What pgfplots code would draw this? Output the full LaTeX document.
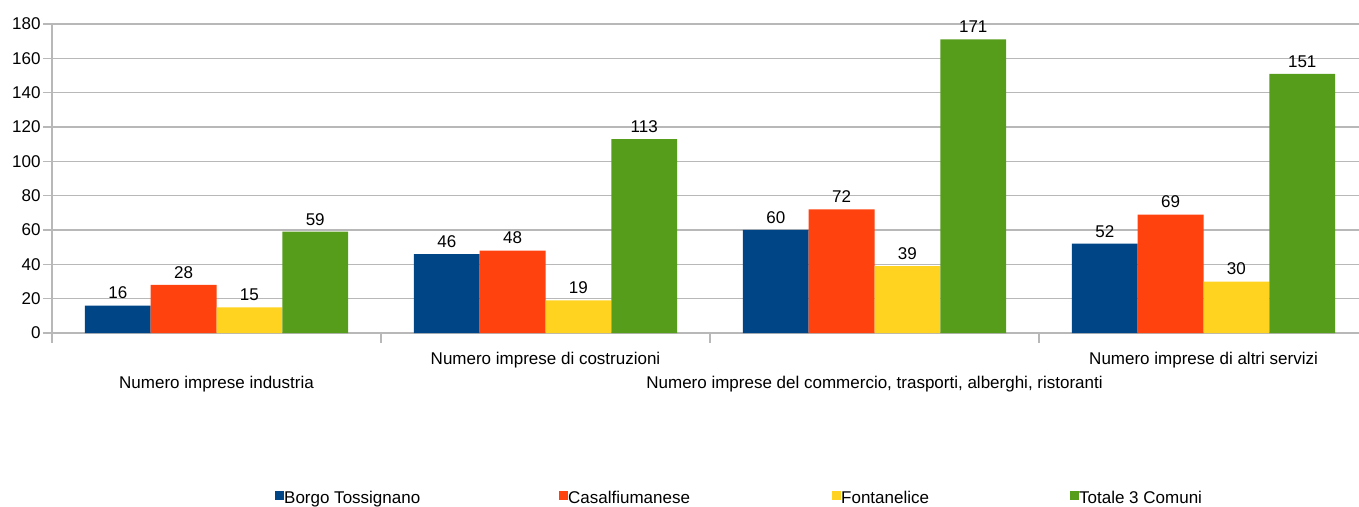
\documentclass[border=0pt]{standalone}
\usepackage{fontspec}
\setmainfont{Liberation Sans}
\usepackage{pgfplots}
\pgfplotsset{compat=1.18}
\definecolor{cBlue}{HTML}{004586}
\definecolor{cOrange}{HTML}{FF420E}
\definecolor{cYellow}{HTML}{FFD320}
\definecolor{cGreen}{HTML}{579D1C}
\definecolor{gridgray}{HTML}{B8B8B8}
\begin{document}
\begin{tikzpicture}
\useasboundingbox (0pt,0pt) rectangle (1359pt,506pt);
\begin{axis}[
  at={(52pt,173pt)}, anchor=south west,
  scale only axis, width=1307pt, height=309pt,
  xmin=-0.5, xmax=3.4726, ymin=0, ymax=180,
  axis x line*=bottom, axis y line*=left,
  axis line style={draw=gridgray, line width=1.3pt, -},
  ytick={0,20,...,180},
  ymajorgrids, grid style={draw=gridgray, line width=1.3pt},
  tick align=outside,
  major tick length=9pt, minor tick length=10pt,
  tick style={draw=gridgray, line width=1.3pt},
  every major x tick/.append style={draw=none},
  xtick={0,2},
  xticklabels={Numero imprese industria, {Numero imprese del commercio, trasporti, alberghi, ristoranti}},
  minor xtick={-0.5,0.5,1.5,2.5},
  extra x ticks={1,3},
  extra x tick labels={Numero imprese di costruzioni, Numero imprese di altri servizi},
  extra x tick style={xticklabel style={yshift=24pt}, grid=none},
  xticklabel style={font=\fontsize{17}{20}\selectfont, anchor=base, yshift=-46pt},
  yticklabel style={font=\fontsize{17}{20}\selectfont, xshift=1pt},
  /pgf/number format/assume math mode=true,
  ybar=0pt, bar width=0.2,
  nodes near coords,
  every node near coord/.append style={font=\fontsize{17}{20}\selectfont, yshift=3pt, black},
  legend columns=4,
  legend style={at={(0.1706,-0.535)}, anchor=west, draw=none, inner sep=0pt,
    nodes={inner xsep=0pt, inner ysep=0pt, font=\fontsize{17}{20}\selectfont},
    /tikz/every even column/.style={column sep=3pt},
    /tikz/every odd column/.style={column sep=0pt}},
  legend image code/.code={\fill[#1] (0pt,-2pt) rectangle (9pt,7pt);},
]
\addplot[fill=cBlue, draw=none, bar shift=-0.3] coordinates {(0,16) (1,46) (2,60) (3,52)};
\addplot[fill=cOrange, draw=none, bar shift=-0.1] coordinates {(0,28) (1,48) (2,72) (3,69)};
\addplot[fill=cYellow, draw=none, bar shift=0.1] coordinates {(0,15) (1,19) (2,39) (3,30)};
\addplot[fill=cGreen, draw=none, bar shift=0.3] coordinates {(0,59) (1,113) (2,171) (3,151)};
\addlegendentry{\makebox[272pt][l]{Borgo Tossignano}}
\addlegendentry{\makebox[261pt][l]{Casalfiumanese}}
\addlegendentry{\makebox[226pt][l]{Fontanelice}}
\addlegendentry{Totale 3 Comuni}
\end{axis}
\end{tikzpicture}
\end{document}
